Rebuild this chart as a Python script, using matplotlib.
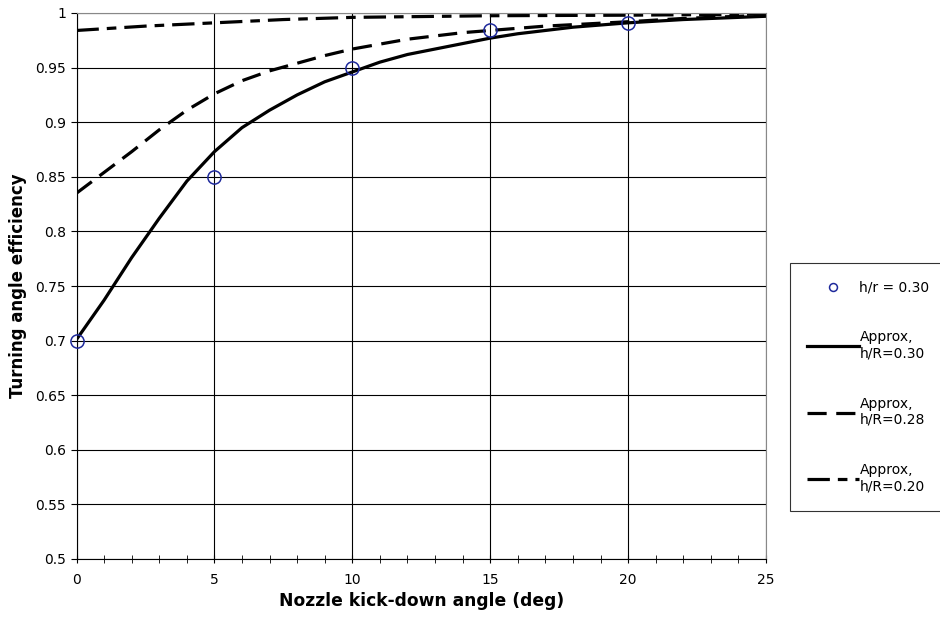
import numpy as np
import matplotlib.pyplot as plt
from matplotlib.ticker import MultipleLocator, FuncFormatter

# measured points
x_meas = [0, 5, 10, 15, 20]
eff_meas = [0.700, 0.850, 0.950, 0.984, 0.991]

# approximation curves
x_030 = [0, 1, 2, 3, 4, 5, 6, 7, 8, 9, 10, 11, 12, 13, 14, 15, 16, 17, 18, 19, 20, 22, 25]
eff_030 = [0.701, 0.737, 0.776, 0.812, 0.846, 0.873, 0.895, 0.911, 0.925, 0.937, 0.946,
           0.955, 0.962, 0.967, 0.972, 0.977, 0.981, 0.984, 0.987, 0.989, 0.991, 0.994, 0.997]
x_028 = [0, 1, 2, 3, 4, 5, 6, 7, 8, 9, 10, 12, 14, 15, 17, 20, 22, 25]
eff_028 = [0.835, 0.854, 0.873, 0.893, 0.911, 0.926, 0.938, 0.947, 0.954, 0.961, 0.967,
           0.976, 0.982, 0.984, 0.988, 0.992, 0.995, 0.998]
x_020 = [0, 2.5, 5, 7.5, 10, 15, 20, 25]
eff_020 = [0.984, 0.988, 0.991, 0.994, 0.996, 0.9975, 0.998, 0.999]

fig = plt.figure(figsize=(9.4, 6.17), dpi=100)
ax = fig.add_axes([76.5/940, 58/617, 689.5/940, 546/617])

ax.plot(x_030, eff_030, color='black', lw=2.3, label='Approx,\nh/R=0.30')
ax.plot(x_028, eff_028, color='black', lw=2.3, dashes=(6, 3), label='Approx,\nh/R=0.28')
ax.plot(x_020, eff_020, color='black', lw=2.3, dashes=(7, 2.5, 3, 2.5), label='Approx,\nh/R=0.20')
ax.plot(x_meas, eff_meas, 'o', ms=9.5, mfc='none', mec='#1f2a9c', mew=1.1,
        label='h/r = 0.30', zorder=5, clip_on=False)

ax.set_xlim(0, 25)
ax.set_ylim(0.5, 1.0)
ax.xaxis.set_major_locator(MultipleLocator(5))
ax.xaxis.set_minor_locator(MultipleLocator(1))
ax.yaxis.set_major_locator(MultipleLocator(0.05))
ax.yaxis.set_major_formatter(FuncFormatter(lambda v, p: f'{v:.2f}'.rstrip('0').rstrip('.')))
ax.grid(True, which='major', color='black', lw=0.8)
ax.tick_params(axis='x', which='both', direction='inout', length=6, pad=7, labelsize=10)
ax.tick_params(axis='y', direction='out', length=4, labelsize=10)
for s in ['top', 'right']:
    ax.spines[s].set_color('#888888')
ax.set_xlabel('Nozzle kick-down angle (deg)', fontsize=12.3, fontweight='bold', labelpad=4)
ax.set_ylabel('Turning angle efficiency', fontsize=12, fontweight='bold', labelpad=6)

h, l = ax.get_legend_handles_labels()
order = [3, 0, 1, 2]
leg = fig.legend([h[i] for i in order], [l[i] for i in order], loc='upper left',
                 bbox_to_anchor=(790/940, 1 - 263/617), borderaxespad=0, fontsize=10,
                 frameon=True, fancybox=False, edgecolor='black', handlelength=3.7,
                 handletextpad=0.05, labelspacing=2.6, borderpad=1.25, markerscale=0.6)
leg.get_frame().set_linewidth(0.8)

fig.savefig('out.png', dpi=100)
